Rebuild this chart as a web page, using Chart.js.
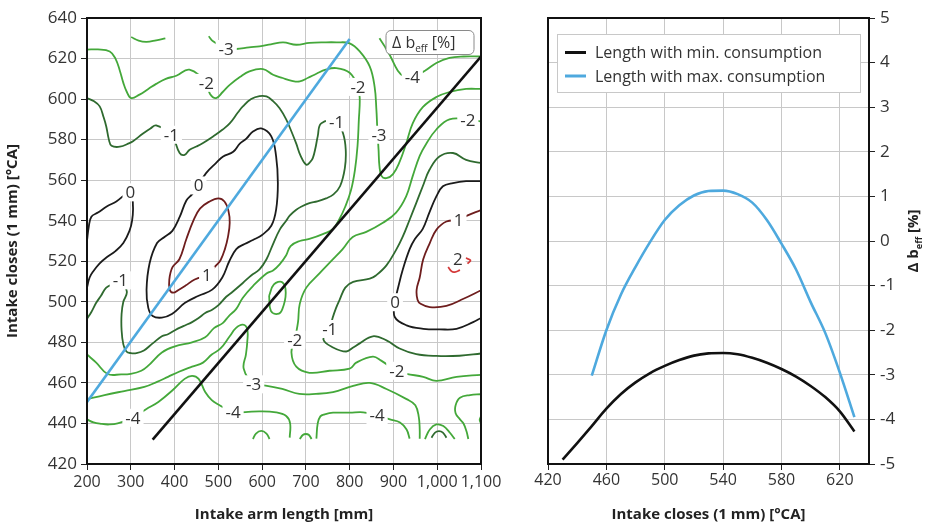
<!DOCTYPE html>
<html>
<head>
<meta charset="utf-8">
<script src="https://cdn.jsdelivr.net/npm/chart.js@4.4.0/dist/chart.umd.min.js"></script>
<style>
  html, body { margin: 0; padding: 0; background: #fff; }
  #wrap { position: relative; width: 926px; height: 527px; }
  canvas { position: absolute; top: 0; }
</style>
</head>
<body>
<div id="wrap">
  <canvas id="mapChart" width="530" height="527" style="left:0"></canvas>
  <canvas id="cutChart" width="426" height="527" style="left:500px"></canvas>
</div>
<script>
// ---- left map: contour lines of delta b_eff [%] (x = arm length mm, y = intake closes °CA)
var cm4TopLeft = [[301,630.6],[318,628.8],[336,628.2],[358,629],[379,630]];
var cm3Top = [[478,631],[488,628.5],[518,625],[541,624.7],[570,625.5],[594,626],[620,627],[648,628],[678,626.8],[708,627.7],[743,628],[770,628],[800,627.5],[823,623.5],[846,616],[857,606],[861,595],[863,586],[866,575],[868,567],[873,562],[884,561],[899,563],[914,569],[929,578],[944,588],[967,596],[998,601],[1028,603.5],[1066,605],[1100,605]];
var cm4TopRight = [[868,630],[880,626],[891,622],[910,614],[925,611],[943,611],[972,614],[998,617.8],[1028,620.3],[1060,621],[1100,621]];
var cm2Diag = [[200,624.4],[225,624.5],[252,623.5],[265,620],[275,614],[283,608],[290,604],[301,600.5],[320,602.2],[340,605],[358,607.5],[380,610],[404,611.5],[434,614.5],[472,608],[481,602.5],[495,600.5],[510,603.5],[526,607],[550,611],[571,613.7],[602,614.8],[625,612],[647,610.4],[668,609],[686,608.7],[705,610.5],[724,612.5],[745,614.5],[769,615.3],[800,613],[819,606],[823,600],[821,590],[818,577],[812,565],[803,555],[790,547],[777,541],[762,536],[740,533.5],[708,531],[686,530],[665,527.5],[655,523],[640,518.5],[625,515.5],[610,514],[580,508],[556,502],[541,496.5],[524,493],[510,489.5],[490,487],[470,482.5],[440,480],[401,478],[371,475],[340,468.5],[324,466],[300,464.5],[278,464.2],[247,464.4],[221,470],[200,474]];
var cm1Main = [[200,600.5],[215,599],[229,596.4],[238,591],[244,586.5],[250,580],[256,577],[275,576.5],[297,578.3],[305,579.2],[328,583],[345,585.5],[358,587],[393,582.4],[411.6,573.4],[423,572.5],[434.5,575],[450,576.6],[466,578.5],[488,581.6],[510,585],[526,588],[545,593.5],[556,596.4],[575,600],[594,601.5],[610,601.3],[625,599],[640,595.5],[655,590],[667,584],[678,578],[688,572],[701,567.6],[710,569],[716,571],[722,576],[727,581.6],[735,588],[770,589],[785,583],[791,575],[789,566],[778,557],[763,553],[746,551],[726,549.5],[708,548.7],[690,547],[678,545.4],[663,542.5],[655,540],[640,535.5],[624,528],[610,521],[594,516],[575,513],[556,509.3],[530,504.5],[518,502.5],[501,498.5],[485,496],[470,494.5],[455,492],[440,490],[420,488],[401,486],[385,484],[371,483],[350,479.5],[330,476],[313,474.7],[300,474.7],[290,475.5],[283,479],[279,486],[279,494],[283,500],[291,505],[276,510.5],[262,509],[244,507],[232,503],[221,499.5],[210,495],[200,491.6]];
var c0Loop = [[455,557.5],[472,563.5],[495,568.5],[511,571.7],[534,574],[549,578],[564,580.5],[579,584],[598,585.5],[621,581.6],[632,571.7],[636,558.5],[632,545.5],[621,537.5],[600,533],[579,530.5],[560,528.5],[541,526],[525,520],[509,512],[486,506],[455,503],[424,499.5],[394,494],[371,492.2],[350,493],[340,497],[336,506],[343,519],[360,529],[377,532],[395,535],[412,542],[427,550],[440,553],[455,557.5]];
var c0Left = [[200,530],[204,537],[210,542],[225,544],[245,547],[267,549.5],[299,554],[305,547],[303,540],[297,535],[283,529],[265,525],[245,522],[229,519],[214,515],[206,512],[200,507]];
var c1Loop = [[474,513],[446,511],[425,508],[410,506],[397,504.5],[389,506],[388,511],[395,517],[411,521],[427,531],[443,540],[458,546],[480,549.5],[500,551],[514,549.5],[523,545],[526,539],[522,532],[515,526],[505,520.5],[495,518],[485,515.5],[474,513]];
var cm3Diag = [[200,452],[240,454],[285,456],[331,458],[360,460.5],[385,463],[410,465.5],[440,468],[465,470],[485,474],[505,477],[526,483],[540,487],[556,488.7],[566,486.5],[566,480],[563,474],[558,467],[581,459.3],[608,458.7],[646,457],[685,454.6],[723,454.6],[762,455.5],[808,458.5],[846,460],[884,457],[930,452],[950,449],[958,443],[960,437],[960,432.5]];
var cm4Left = [[200,442],[215,440.5],[232,439.8],[250,439.5],[270,440],[305,442.8],[335,447],[363,450.6],[396,456.5],[423,462],[440,463.5],[455,462],[470,455.5],[485,451.5],[499,449.5],[533.6,445.6],[562,445.6],[594,446],[632,445.5],[655,443.7],[664,440],[663,433]];
var cm2Small = [[616,503],[627,508.6],[646,509.7],[654,504.5],[646,496.3],[635,494],[620,495.5],[616,503]];
var cm1Right = [[1100,568.5],[1066,570],[1036,573.4],[1005,571.7],[982,565],[967,557],[952,548.7],[937,540.5],[921,532],[907,526],[884,518],[860,513],[846,511.4],[808,509.8],[790,507],[777,501],[769,497],[761,492],[754.5,486.6],[740,481.5],[762,477.5],[792,475.5],[808,477.5],[823,479.5],[853,483],[884,481],[914,477],[952,474.2],[998,473.3],[1051,473.4],[1100,474.5]];
var cm2Right = [[1100,589],[1070,590],[1028,590],[998,585],[975,578],[960,572],[944,562],[929,552],[906,544],[876,539],[838,534.5],[807,532],[784,526],[762,521],[731,514],[701,507],[686,499],[682,490],[674.5,481.3],[667,475],[678,468],[708,465],[754,466],[800,467],[815,470],[853,473],[872,471],[907,466],[930,464.5],[968,463],[998,461],[1044,463],[1100,464]];
var c0Right = [[1100,559.5],[1066,559.5],[1036,558.6],[1013,557],[998,552],[982,544],[967,536],[949,531],[937,526],[922,516.4],[911,507.3],[903.7,499.8],[903,492.5],[930,488.4],[968,486.7],[1006,486.4],[1044,486.7],[1082,490],[1100,492]];
var c1Right = [[1100,545.3],[1067,542.4],[1050,540.4],[1021,539.6],[998,535.5],[983,529],[968,521],[960,512],[953,506],[955,501],[962,499],[983,497.4],[1021,498],[1060,501.5],[1100,505.7]];
var c2HookA = [[1025,517.2],[1033,515],[1040,514.7],[1052,515.6]];
var c2HookB = [[1065,521.6],[1076,520.5],[1069,518.8]];
var cm3Right = [[1100,454.4],[1075,454],[1052,452.7],[1042,449],[1042,445],[1052,442],[1060,440],[1067,436],[1071,432.3]];
var cm4Right = [[724,432.5],[727,440],[733,443.5],[743,444.5],[762,445.3],[800,445.3],[831,445.5],[863,444],[892,442],[915,440.5],[930,437],[937,432.5]];
var cmArc1 = [[579,432.3],[586,435],[598,436.3],[610,435],[617,432.3]];
var cmArc2 = [[686,432.3],[693,434.3],[700,434.8],[707,434.3],[713,432.3]];
var cmArc3 = [[972,432.3],[983,437],[998,439.5],[1014,438.7],[1029,435.4],[1040,432.3]];
var cmArcDark = [[987,433],[995,435.5],[1004,436.2],[1013,435.5],[1021,433]];
var cmEdge = [[1100,443.5],[1097,441.8],[1100,440]];

// optimum lines over the map
var minConsLine = [[350,432],[1100,621]];
var maxConsLine = [[200,450.6],[800,629.6]];

// inline contour labels [x, y, text]
var contourLabels = [
  [518,624.7,'-3'],[472.6,608,'-2'],[819,606,'-2'],[943,611,'-4'],[392.7,582.4,'-1'],
  [770,588.5,'-1'],[867,582.4,'-3'],[1070,589.8,'-2'],[299,554,'0'],[455,557.4,'0'],
  [1049,540.4,'1'],[1047,521,'2'],[276,510.6,'-1'],[474,513,'1'],[903.7,499.8,'0'],
  [674.5,481.3,'-2'],[754.5,486.6,'-1'],[580.8,459.3,'-3'],[907.7,466,'-2'],
  [305,442.8,'-4'],[533.6,445.6,'-4'],[862.6,444,'-4']
];

// ---- right chart: delta b_eff along the two optimum lines
var closesMax = [450,460,470,480,490,500,510,520,530,540,550,560,570,580,590,600,610,620,630];
var beffMax = [-3.02,-2.0,-1.2,-0.58,-0.02,0.47,0.8,1.02,1.12,1.13,1.05,0.86,0.47,-0.06,-0.64,-1.37,-2.06,-2.95,-3.95];
var closesMin = [430,440,450,460,470,480,490,500,510,520,530,540,550,560,570,580,590,600,610,620,630];
var beffMin = [-4.9,-4.53,-4.15,-3.76,-3.43,-3.17,-2.96,-2.8,-2.67,-2.57,-2.52,-2.51,-2.54,-2.62,-2.73,-2.87,-3.04,-3.25,-3.5,-3.82,-4.27];
var closesTicks = [420,460,500,540,580,620];

var legendNames = ['Length with min. consumption', 'Length with max. consumption'];

var GREEN = '#44a83a', DKGREEN = '#2f6a2f', BLACK = '#1b1b1b', DKRED = '#6e1d1d', RED = '#d43a3a';
var BLUE = '#4ea9de';

function pts(arr) { return arr.map(function (p) { return {x: p[0], y: p[1]}; }); }

var contours = [
  [cm4TopLeft, GREEN], [cm3Top, GREEN], [cm4TopRight, GREEN], [cm2Diag, GREEN],
  [cm1Main, DKGREEN], [c0Loop, BLACK], [c0Left, BLACK], [c1Loop, DKRED],
  [cm3Diag, GREEN], [cm4Left, GREEN], [cm2Small, GREEN], [cm1Right, DKGREEN],
  [cm2Right, GREEN], [c0Right, BLACK], [c1Right, DKRED], [c2HookA, RED], [c2HookB, RED],
  [cm3Right, GREEN], [cm4Right, GREEN], [cmArc1, GREEN], [cmArc2, GREEN],
  [cmArc3, GREEN], [cmArcDark, DKGREEN], [cmEdge, GREEN]
];

Chart.defaults.font.family = "'Open Sans', sans-serif";
Chart.defaults.color = '#333';

var mapDatasets = [
  {data: pts(minConsLine), borderColor: '#111', borderWidth: 2.6},
  {data: pts(maxConsLine), borderColor: BLUE, borderWidth: 2.6}
];
contours.forEach(function (c) {
  mapDatasets.push({data: pts(c[0]), borderColor: c[1], borderWidth: 1.8, tension: 0.4});
});
mapDatasets.forEach(function (d) { d.showLine = true; d.pointRadius = 0; d.fill = false; });

// white-backed labels sitting on the contour lines
var labelPlugin = {
  id: 'contourLabels',
  afterDatasetsDraw: function (chart) {
    var ctx = chart.ctx, x = chart.scales.x, y = chart.scales.y;
    ctx.save();
    ctx.font = "17px 'Open Sans'";
    ctx.textAlign = 'center';
    ctx.textBaseline = 'middle';
    contourLabels.forEach(function (l) {
      var px = x.getPixelForValue(l[0]), py = y.getPixelForValue(l[1]);
      var w = ctx.measureText(l[2]).width + 6;
      ctx.fillStyle = '#fff';
      ctx.fillRect(px - w / 2, py - 9, w, 18);
      ctx.fillStyle = '#333';
      ctx.fillText(l[2], px, py + 1);
    });
    ctx.restore();
  }
};

function drawBeff(ctx, x, y, size, bold) {
  // "Δ b" + subscript "eff" + " [%]", starting at x on baseline y
  var w = bold ? 'bold ' : '';
  ctx.font = w + size + "px 'Open Sans'";
  ctx.fillText('\u0394 b', x, y);
  x += ctx.measureText('\u0394 b').width;
  ctx.font = w + Math.round(size * 0.62) + "px 'Open Sans'";
  ctx.fillText('eff', x, y + size * 0.28);
  x += ctx.measureText('eff').width;
  ctx.font = w + size + "px 'Open Sans'";
  ctx.fillText(' [%]', x, y);
}

var mapFrame = {
  id: 'mapFrame',
  afterDatasetsDraw: function (chart) {
    var ctx = chart.ctx, a = chart.chartArea;
    ctx.save();
    ctx.strokeStyle = '#111';
    ctx.lineWidth = 2;
    ctx.strokeRect(a.left, a.top, a.right - a.left, a.bottom - a.top);
    // unit box, top right
    var bx = a.right - 95, by = a.top + 12.5, bw = 88, bh = 24;
    ctx.beginPath();
    ctx.roundRect(bx, by, bw, bh, 5);
    ctx.fillStyle = '#fff';
    ctx.fill();
    ctx.lineWidth = 1;
    ctx.strokeStyle = '#8a8a8a';
    ctx.stroke();
    ctx.fillStyle = '#333';
    ctx.textBaseline = 'alphabetic';
    ctx.textAlign = 'left';
    drawBeff(ctx, bx + 6, by + 17, 16, false);
    ctx.restore();
  }
};

new Chart(document.getElementById('mapChart'), {
  type: 'scatter',
  data: {datasets: mapDatasets},
  options: {
    responsive: false,
    animation: false,
    layout: {padding: {left: 0, right: 49, top: 18, bottom: 0}},
    plugins: {legend: {display: false}, tooltip: {enabled: false}},
    scales: {
      x: {
        type: 'linear', min: 200, max: 1100,
        ticks: {stepSize: 100, font: {size: 16}, color: '#333', padding: 3, maxRotation: 0, autoSkip: false,
          callback: function (v) { return v.toLocaleString('en-US'); }},
        grid: {color: '#c8c8c8', tickColor: '#222', tickLength: 6},
        border: {color: '#111', width: 2},
        title: {display: true, text: 'Intake arm length [mm]', color: '#222',
          font: {size: 15, weight: 'bold'}, padding: {top: 0, bottom: 3}},
        afterFit: function (s) { s.height = 63; }
      },
      y: {
        type: 'linear', min: 420, max: 640,
        ticks: {stepSize: 20, font: {size: 17}, color: '#333', padding: 4},
        grid: {color: '#c8c8c8', tickColor: '#222', tickLength: 6},
        border: {color: '#111', width: 2},
        title: {display: true, text: 'Intake closes (1 mm) [\u00b0CA]', color: '#222',
          font: {size: 15, weight: 'bold'}, padding: {top: 4, bottom: 0}},
        afterFit: function (s) { s.width = 87; }
      }
    }
  },
  plugins: [labelPlugin, mapFrame]
});

// ---- right chart
var cutFrame = {
  id: 'cutFrame',
  afterDatasetsDraw: function (chart) {
    var ctx = chart.ctx, a = chart.chartArea;
    ctx.save();
    ctx.strokeStyle = '#111';
    ctx.lineWidth = 2;
    ctx.strokeRect(a.left, a.top, a.right - a.left, a.bottom - a.top);
    // legend box inside the plot
    var lx = a.left + 9, ly = a.top + 16, lw = 303, lh = 58;
    ctx.fillStyle = '#fff';
    ctx.fillRect(lx, ly, lw, lh);
    ctx.lineWidth = 1;
    ctx.strokeStyle = '#c8c8c8';
    ctx.strokeRect(lx + 0.5, ly + 0.5, lw, lh);
    var colors = ['#111', BLUE];
    ctx.font = "16px 'Open Sans'";
    ctx.textBaseline = 'middle';
    ctx.textAlign = 'left';
    legendNames.forEach(function (name, i) {
      var yy = ly + 18.5 + i * 23.5;
      ctx.strokeStyle = colors[i];
      ctx.lineWidth = 3;
      ctx.beginPath();
      ctx.moveTo(lx + 8, yy);
      ctx.lineTo(lx + 29, yy);
      ctx.stroke();
      ctx.fillStyle = '#333';
      ctx.fillText(name, lx + 38, yy + 1);
    });
    // right axis title, reading upwards
    ctx.translate(a.right + 44, (a.top + a.bottom) / 2);
    ctx.rotate(-Math.PI / 2);
    ctx.fillStyle = '#222';
    ctx.textBaseline = 'alphabetic';
    ctx.font = "bold 15px 'Open Sans'";
    var total = ctx.measureText('\u0394 b [%]').width;
    ctx.font = "bold 9px 'Open Sans'";
    total += ctx.measureText('eff').width;
    drawBeff(ctx, -total / 2, 5, 15, true);
    ctx.restore();
  }
};

new Chart(document.getElementById('cutChart'), {
  type: 'scatter',
  data: {
    datasets: [
      {label: legendNames[0], data: closesMin.map(function (v, i) { return {x: v, y: beffMin[i]}; }),
        borderColor: '#111', borderWidth: 2.6},
      {label: legendNames[1], data: closesMax.map(function (v, i) { return {x: v, y: beffMax[i]}; }),
        borderColor: BLUE, borderWidth: 2.6}
    ].map(function (d) { d.showLine = true; d.pointRadius = 0; d.cubicInterpolationMode = 'monotone'; return d; })
  },
  options: {
    responsive: false,
    animation: false,
    layout: {padding: {left: 48, right: 0, top: 18, bottom: 0}},
    plugins: {legend: {display: false}, tooltip: {enabled: false}},
    scales: {
      x: {
        type: 'linear', min: 420, max: 640,
        ticks: {font: {size: 16}, color: '#333', padding: 1, maxRotation: 0, autoSkip: false},
        afterBuildTicks: function (s) { s.ticks = closesTicks.map(function (v) { return {value: v}; }); },
        grid: {color: '#c8c8c8', tickColor: '#222', tickLength: 6},
        border: {color: '#111', width: 2},
        title: {display: true, text: 'Intake closes (1 mm) [\u00b0CA]', color: '#222',
          font: {size: 15, weight: 'bold'}, padding: {top: 0, bottom: 3}},
        afterFit: function (s) { s.height = 63; }
      },
      y: {
        type: 'linear', position: 'right', min: -5, max: 5,
        ticks: {stepSize: 1, font: {size: 17}, color: '#333', padding: 5},
        grid: {color: '#c8c8c8', tickColor: '#222', tickLength: 6},
        border: {color: '#111', width: 2},
        afterFit: function (s) { s.width = 57; }
      }
    }
  },
  plugins: [cutFrame]
});
</script>
</body>
</html>
